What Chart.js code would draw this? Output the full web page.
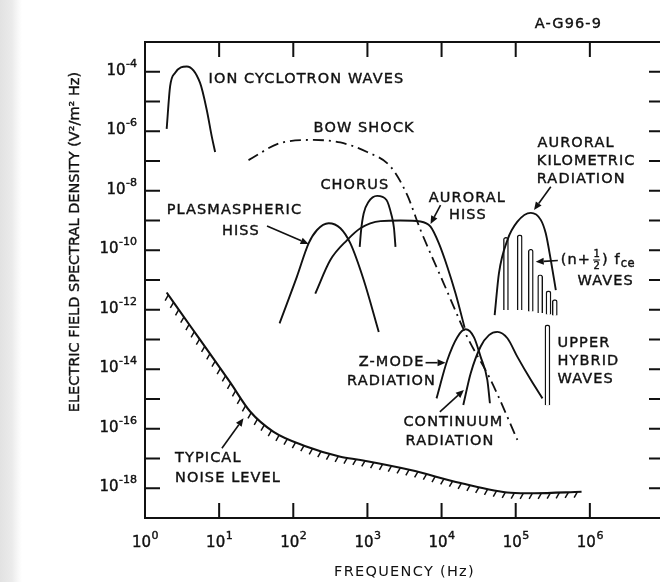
<!DOCTYPE html>
<html>
<head>
<meta charset="utf-8">
<script src="https://cdn.jsdelivr.net/npm/chart.js@4.4.1/dist/chart.umd.min.js"></script>
<style>
  html, body { margin: 0; padding: 0; overflow: hidden; }
  body {
    width: 660px; height: 582px;
    background: linear-gradient(to right, #e2e2e2 0px, #ebebeb 12px, #f8f8f8 18px, #fff 22px);
  }
  canvas { display: block; }
</style>
</head>
<body>
<canvas id="chart" width="680" height="582"></canvas>
<script>
// axis decades and the exponents printed under/next to them
const xTicks = [1, 1e1, 1e2, 1e3, 1e4, 1e5, 1e6, 1e7];
const xTickExp = ['0', '1', '2', '3', '4', '5', '6', ''];
const yTicks = [1e-19, 1e-18, 1e-17, 1e-16, 1e-15, 1e-14, 1e-13, 1e-12, 1e-11,
                1e-10, 1e-9, 1e-8, 1e-7, 1e-6, 1e-5, 1e-4, 1e-3];
const yTickExp = ['', '-18', '', '-16', '', '-14', '', '-12', '',
                  '-10', '', '-8', '', '-6', '', '-4', ''];

// spectra: frequency (Hz) / spectral density (V^2/m^2 Hz)
const ionFreq = [1.96, 2.18, 2.54, 3.66, 5.53, 6.82, 7.96, 8.83];
const ionPsd  = [1.2e-6, 3.2e-5, 9.1e-5, 1.5e-4, 4.2e-5, 5.1e-6, 6.6e-7, 2.0e-7];

const bowFreq = [24.9, 66.7, 186, 432, 991, 2050, 3436, 5200, 10640, 22230, 45900, 105400];
const bowPsd  = [1.07e-7, 4.0e-7, 5.1e-7, 4.2e-7, 2.0e-7, 6.5e-8, 7.2e-9, 4.8e-10, 7.9e-12, 1.2e-13, 4.4e-15, 4.2e-17];

const plasFreq = [65.3, 112, 161, 209, 300, 432, 589, 891, 1422];
const plasPsd  = [3.5e-13, 1.3e-11, 1.7e-10, 4.8e-10, 8.1e-10, 5.5e-10, 1.7e-10, 1.0e-11, 1.8e-13];

const chorusFreq = [787, 820, 891, 1032, 1352, 1807, 2110, 2280, 2390];
const chorusPsd  = [1.3e-10, 4.5e-10, 1.75e-9, 4.2e-9, 6.7e-9, 4.9e-9, 1.53e-9, 5.6e-10, 1.3e-10];

const aurFreq = [198, 316, 532, 804, 1500, 2790, 5200, 7100, 9200, 11940, 15450, 20460];
const aurPsd  = [3.5e-12, 4.7e-11, 2.2e-10, 5.5e-10, 9.5e-10, 1.0e-9, 9.3e-10, 6.2e-10, 1.7e-10, 2.8e-11, 3.5e-12, 2.5e-13];

const zFreq = [8550, 11940, 16300, 21090, 27290, 33650, 41400, 44870];
const zPsd  = [1.05e-15, 2.0e-14, 1.2e-13, 2.2e-13, 1.2e-13, 2.6e-14, 4.4e-15, 7.2e-16];

const contFreq = [19630, 24660, 33650, 43550, 56620, 77270, 105400, 159600, 229600];
const contPsd  = [6.3e-16, 7.2e-15, 5.8e-14, 1.4e-13, 1.8e-13, 1.1e-13, 2.6e-14, 4.4e-15, 1.05e-15];

const akrFreq = [52000, 59430, 77270, 105400, 159600, 217800, 254100, 297200, 347500];
const akrPsd  = [6.6e-13, 1.7e-11, 2.2e-10, 9.1e-10, 1.8e-9, 1.05e-9, 3.7e-10, 4.7e-11, 4.6e-12];

// (n+1/2) fce emission lines and the upper hybrid line: floor and peak
const fceFreq = [73800, 113200, 159600, 213800, 276700, 336500];
const fceTop  = [2.7e-10, 3.3e-10, 1.08e-10, 1.5e-11, 4.3e-12, 2.2e-12];
const fceLow  = [9.8e-13, 9.8e-13, 8.7e-13, 7.8e-13, 6.9e-13, 6.4e-13];
const uhrFreq = [267900];
const uhrTop  = [3.1e-13];
const uhrLow  = [6.3e-16];

const noiseFreq = [1.96, 4.06, 7.55, 14.1, 26.2, 54.2, 153, 432, 804, 3811, 18070, 85500, 176600, 772700];
const noisePsd  = [3.8e-12, 2.9e-13, 3.3e-14, 3.6e-15, 3.8e-16, 7.9e-17, 2.5e-17, 1.15e-17, 8.9e-18, 4.1e-18, 1.5e-18, 7.1e-19, 6.8e-19, 7.6e-19];

// annotations (anchored in data coordinates)
const notes = [
  { text: 'ION CYCLOTRON WAVES', f: 7.2, s: 5.6e-5 },
  { text: 'BOW SHOCK', f: 188, s: 1.26e-6 },
  { text: 'CHORUS', f: 232, s: 1.56e-8 },
  { text: 'PLASMASPHERIC', f: 1.96, s: 2.13e-9 },
  { text: 'HISS', f: 10.9, s: 4.2e-10 },
  { text: 'AURORAL', f: 6730, s: 5.6e-9 },
  { text: 'HISS', f: 12560, s: 1.53e-9 },
  { text: 'AURORAL', f: 196400, s: 3.9e-7 },
  { text: 'KILOMETRIC', f: 192300, s: 1.0e-7 },
  { text: 'RADIATION', f: 192300, s: 2.4e-8 },
  { text: 'WAVES', f: 682300, s: 9.2e-12 },
  { text: 'UPPER', f: 366400, s: 7.4e-14 },
  { text: 'HYBRID', f: 366400, s: 1.8e-14 },
  { text: 'WAVES', f: 366400, s: 4.6e-15 },
  { text: 'Z-MODE', f: 763, s: 1.66e-14 },
  { text: 'RADIATION', f: 532, s: 4.0e-15 },
  { text: 'CONTINUUM', f: 3055, s: 1.6e-16 },
  { text: 'RADIATION', f: 3266, s: 3.7e-17 },
  { text: 'TYPICAL', f: 2.54, s: 1.02e-17 },
  { text: 'NOISE LEVEL', f: 2.54, s: 2.16e-18 },
  { text: 'A-G96-9', f: 180700, s: 3.9e-3 }
];
const fceNote = { f: 405500, s: 4.7e-11 };

const arrows = [
  { from: [44.2, 6.5e-10], to: [161, 1.62e-10] },
  { from: [9690, 3.3e-9], to: [7100, 7.6e-10] },
  { from: [297200, 1.37e-8], to: [176600, 2.25e-9] },
  { from: [369800, 4.5e-11], to: [186200, 4.1e-11] },
  { from: [6080, 1.66e-14], to: [11320, 1.66e-14] },
  { from: [9480, 3.7e-16], to: [20000, 2.0e-15] },
  { from: [10.9, 2.2e-17], to: [21.3, 2.24e-16] }
];

const ink = '#111111';
const FONT = '"DejaVu Sans", sans-serif';

function curve(freq, psd, extra) {
  return Object.assign({
    type: 'line',
    data: freq.map((f, i) => ({ x: f, y: psd[i] })),
    borderColor: ink,
    borderWidth: 1.9,
    pointRadius: 0,
    cubicInterpolationMode: 'monotone',
    fill: false
  }, extra || {});
}

function spikes(freq, low, top) {
  return {
    type: 'bar',
    stack: 'lines',
    data: freq.map((f, i) => ({ x: f, y: [low[i], top[i]] })),
    backgroundColor: '#ffffff',
    borderColor: ink,
    borderWidth: 1.4,
    barThickness: 5,
    borderSkipped: 'bottom',
    borderRadius: { topLeft: 2.5, topRight: 2.5, bottomLeft: 0, bottomRight: 0 }
  };
}

function inkText(ctx, text, x, y) {
  ctx.fillText(text, x, y);
  ctx.strokeText(text, x, y);
}

// frame with inward decade ticks, tick labels and y title
const framePlugin = {
  id: 'frame',
  afterDraw(chart) {
    const { ctx, chartArea: a, scales } = chart;
    ctx.save();
    ctx.strokeStyle = ink;
    ctx.fillStyle = ink;
    ctx.lineWidth = 2;
    ctx.strokeRect(a.left, a.top, a.right - a.left, a.bottom - a.top);
    const len = 15;
    ctx.beginPath();
    xTicks.slice(1, -1).forEach(v => {
      const px = scales.x.getPixelForValue(v);
      ctx.moveTo(px, a.bottom); ctx.lineTo(px, a.bottom - len);
      ctx.moveTo(px, a.top); ctx.lineTo(px, a.top + len);
    });
    yTicks.slice(1, -1).forEach(v => {
      const py = scales.y.getPixelForValue(v);
      ctx.moveTo(a.left, py); ctx.lineTo(a.left + len, py);
      ctx.moveTo(a.right, py); ctx.lineTo(a.right - len, py);
    });
    ctx.stroke();

    // decade labels: "10" with a raised exponent
    ctx.lineWidth = 0.4;
    ctx.letterSpacing = '0px';
    ctx.textBaseline = 'middle';
    ctx.textAlign = 'left';
    const baseFont = '15px ' + FONT, expFont = '11px ' + FONT;
    const widths = e => {
      ctx.font = baseFont; const b = ctx.measureText('10').width;
      ctx.font = expFont; const x = ctx.measureText(e).width;
      return [b, x];
    };
    xTicks.forEach((v, i) => {
      const e = xTickExp[i];
      if (!e) return;
      const [bw, ew] = widths(e);
      const x0 = scales.x.getPixelForValue(v) - (bw + ew) / 2;
      ctx.font = baseFont; inkText(ctx, '10', x0, a.bottom + 25.5);
      ctx.font = expFont; inkText(ctx, e, x0 + bw + 0.5, a.bottom + 18.5);
    });
    yTicks.forEach((v, i) => {
      const e = yTickExp[i];
      if (!e) return;
      const [bw, ew] = widths(e);
      const py = scales.y.getPixelForValue(v);
      const x1 = a.left - 8;
      ctx.font = expFont; inkText(ctx, e, x1 - ew, py - 8);
      ctx.font = baseFont; inkText(ctx, '10', x1 - ew - bw - 0.5, py - 1);
    });

    // y axis title
    ctx.font = '14.5px ' + FONT;
    ctx.textAlign = 'center';
    ctx.translate(a.left - 70, a.top + 200);
    ctx.rotate(-Math.PI / 2);
    inkText(ctx, 'ELECTRIC FIELD SPECTRAL DENSITY (V²/m² Hz)', 0, 0);
    ctx.restore();
  }
};

// hatching under the noise level curve
const hatchPlugin = {
  id: 'hatch',
  afterDatasetsDraw(chart) {
    const idx = chart.data.datasets.findIndex(d => d.label === 'noise');
    const pts = chart.getDatasetMeta(idx).data;
    const poly = [];
    for (let i = 0; i < pts.length - 1; i++) {
      const a = pts[i], b = pts[i + 1];
      const c1x = a.cp2x ?? a.x, c1y = a.cp2y ?? a.y;
      const c2x = b.cp1x ?? b.x, c2y = b.cp1y ?? b.y;
      for (let k = 0; k < 40; k++) {
        const t = k / 40, u = 1 - t;
        poly.push([
          u * u * u * a.x + 3 * u * u * t * c1x + 3 * u * t * t * c2x + t * t * t * b.x,
          u * u * u * a.y + 3 * u * u * t * c1y + 3 * u * t * t * c2y + t * t * t * b.y
        ]);
      }
    }
    const last = pts[pts.length - 1];
    poly.push([last.x, last.y]);

    const { ctx } = chart;
    const gap = 9, len = 6.5, dx = -0.5, dy = 0.866;
    ctx.save();
    ctx.strokeStyle = ink;
    ctx.lineWidth = 1.5;
    ctx.beginPath();
    let need = 3;
    for (let i = 1; i < poly.length; i++) {
      const [x0, y0] = poly[i - 1], [x1, y1] = poly[i];
      const d = Math.hypot(x1 - x0, y1 - y0);
      if (!d) continue;
      const tx = (x1 - x0) / d, ty = (y1 - y0) / d;
      let pos = need;
      while (pos <= d) {
        const px = x0 + tx * pos, py = y0 + ty * pos;
        ctx.moveTo(px, py);
        ctx.lineTo(px + dx * len, py + dy * len);
        pos += gap;
      }
      need = pos - d;
    }
    ctx.stroke();
    ctx.restore();
  }
};

// text labels and arrows
const notesPlugin = {
  id: 'notes',
  afterDraw(chart) {
    const { ctx, scales: { x, y } } = chart;
    ctx.save();
    ctx.fillStyle = ink;
    ctx.strokeStyle = ink;
    ctx.lineWidth = 0.4;
    ctx.font = '14.5px ' + FONT;
    ctx.letterSpacing = '1.1px';
    ctx.textAlign = 'left';
    ctx.textBaseline = 'middle';
    notes.forEach(n => {
      inkText(ctx, n.text, x.getPixelForValue(n.f), y.getPixelForValue(n.s));
    });

    // (n + 1/2) f_ce
    let px = x.getPixelForValue(fceNote.f);
    const py = y.getPixelForValue(fceNote.s);
    inkText(ctx, '(n+', px, py);
    px += ctx.measureText('(n+').width + 2;
    ctx.font = '10px ' + FONT;
    ctx.letterSpacing = '0px';
    ctx.textAlign = 'center';
    inkText(ctx, '1', px + 3.5, py - 6);
    inkText(ctx, '2', px + 3.5, py + 6);
    ctx.lineWidth = 1;
    ctx.beginPath();
    ctx.moveTo(px, py); ctx.lineTo(px + 7, py);
    ctx.stroke();
    ctx.lineWidth = 0.4;
    px += 9;
    ctx.textAlign = 'left';
    ctx.font = '14.5px ' + FONT;
    ctx.letterSpacing = '1.1px';
    inkText(ctx, ') f', px, py);
    px += ctx.measureText(') f').width;
    ctx.font = '11.5px ' + FONT;
    ctx.letterSpacing = '0.5px';
    inkText(ctx, 'ce', px, py + 4);

    ctx.lineWidth = 1.6;
    arrows.forEach(a => {
      const x0 = x.getPixelForValue(a.from[0]), y0 = y.getPixelForValue(a.from[1]);
      const x1 = x.getPixelForValue(a.to[0]), y1 = y.getPixelForValue(a.to[1]);
      const ang = Math.atan2(y1 - y0, x1 - x0);
      const hl = 8, hw = 3.5;
      const bx = x1 - Math.cos(ang) * hl, by = y1 - Math.sin(ang) * hl;
      ctx.beginPath();
      ctx.moveTo(x0, y0); ctx.lineTo(bx, by);
      ctx.stroke();
      ctx.beginPath();
      ctx.moveTo(x1, y1);
      ctx.lineTo(bx - Math.sin(ang) * hw, by + Math.cos(ang) * hw);
      ctx.lineTo(bx + Math.sin(ang) * hw, by - Math.cos(ang) * hw);
      ctx.closePath();
      ctx.fill();
    });
    ctx.restore();
  }
};

new Chart(document.getElementById('chart'), {
  type: 'line',
  data: {
    datasets: [
      curve(ionFreq, ionPsd),
      curve(bowFreq, bowPsd, { borderDash: [11, 5, 2, 5], borderWidth: 1.8 }),
      curve(plasFreq, plasPsd),
      curve(chorusFreq, chorusPsd),
      curve(aurFreq, aurPsd),
      curve(zFreq, zPsd),
      curve(contFreq, contPsd),
      curve(akrFreq, akrPsd),
      spikes(fceFreq, fceLow, fceTop),
      spikes(uhrFreq, uhrLow, uhrTop),
      curve(noiseFreq, noisePsd, { label: 'noise', borderWidth: 2.1 })
    ]
  },
  options: {
    responsive: false,
    animation: false,
    devicePixelRatio: 1,
    layout: { padding: { top: 42, right: 16, left: 0, bottom: 0 } },
    plugins: { legend: { display: false }, tooltip: { enabled: false } },
    scales: {
      x: {
        type: 'logarithmic',
        min: 1,
        max: 1e7,
        offset: false,
        afterFit: s => { s.height = 64; },
        afterBuildTicks: s => { s.ticks = xTicks.map(v => ({ value: v })); },
        grid: { display: false, drawTicks: false, offset: false },
        border: { display: false },
        ticks: { display: false },
        title: {
          display: true, text: 'FREQUENCY (Hz)', color: ink,
          font: { family: 'DejaVu Sans', size: 14.5 },
          padding: { top: 0, bottom: 1.5 }
        }
      },
      y: {
        type: 'logarithmic',
        min: 1e-19,
        max: 1e-3,
        afterFit: s => { s.width = 145; },
        afterBuildTicks: s => { s.ticks = yTicks.map(v => ({ value: v })); },
        grid: { display: false, drawTicks: false },
        border: { display: false },
        ticks: { display: false }
      }
    }
  },
  plugins: [framePlugin, hatchPlugin, notesPlugin, {
    id: 'spacing',
    beforeDraw(chart) { chart.ctx.letterSpacing = '1.3px'; }
  }]
});
</script>
</body>
</html>
